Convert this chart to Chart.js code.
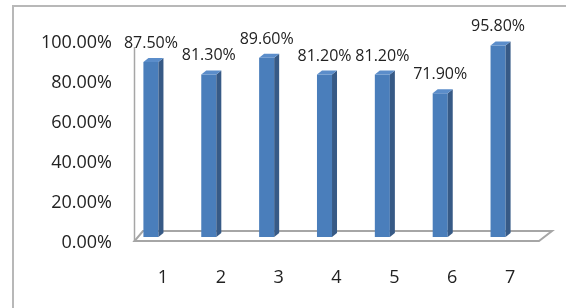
<!DOCTYPE html>
<html>
<head>
<meta charset="utf-8">
<script src="https://cdn.jsdelivr.net/npm/chart.js@4/dist/chart.umd.min.js"></script>
<style>
    html, body { margin: 0; padding: 0; background: #ffffff; }
    #wrap { width: 567px; height: 308px; }
</style>
</head>
<body>
<div id="wrap"><canvas id="chartRate" width="567" height="308"></canvas></div>
<script>
// 데이터
const categories = ['1', '2', '3', '4', '5', '6', '7'];
const rateValues = [87.5, 81.3, 89.6, 81.2, 81.2, 71.9, 95.8];
const yTicks = [0, 20, 40, 60, 80, 100];

// 3D 느낌 (옆면, 윗면, 바닥, 테두리)
const depthX = 5, depthY = -4;
const fake3d = {
    id: 'fake3d',
    beforeDatasetsDraw(chart) {
        const ctx = chart.ctx;
        const a = chart.chartArea;
        ctx.save();
        // 바깥 테두리
        ctx.strokeStyle = '#b8b8b8';
        ctx.lineWidth = 2;
        ctx.beginPath();
        ctx.moveTo(13, 308);
        ctx.lineTo(13, 6);
        ctx.lineTo(566, 6);
        ctx.stroke();
        // 벽 선
        ctx.strokeStyle = '#a6a6a6';
        ctx.lineWidth = 1.5;
        ctx.beginPath();
        ctx.moveTo(a.left + 12.5, a.top + 10);
        ctx.lineTo(a.left + 12.5, a.bottom + 4);
        ctx.stroke();
        // 바닥
        ctx.strokeStyle = '#a6a6a6';
        ctx.lineWidth = 2;
        ctx.beginPath();
        ctx.moveTo(a.left + 12.5, a.bottom + 4);
        ctx.lineTo(a.right + 12, a.bottom + 4);
        ctx.lineTo(a.right + 25, a.bottom - 6);
        ctx.lineTo(a.left + 21, a.bottom - 6);
        ctx.closePath();
        ctx.stroke();
        ctx.restore();
    },
    afterDatasetsDraw(chart) {
        const ctx = chart.ctx;
        const meta = chart.getDatasetMeta(0);
        ctx.save();
        meta.data.forEach(function(bar, i) {
            const half = bar.width / 2;
            const x1 = bar.x - half, x2 = bar.x + half;
            const top = bar.y, bottom = bar.base;
            // 옆면
            ctx.fillStyle = '#375a86';
            ctx.beginPath();
            ctx.moveTo(x2, top);
            ctx.lineTo(x2 + depthX, top + depthY);
            ctx.lineTo(x2 + depthX, bottom + depthY);
            ctx.lineTo(x2, bottom);
            ctx.closePath();
            ctx.fill();
            // 윗면
            ctx.fillStyle = '#5b8dca';
            ctx.beginPath();
            ctx.moveTo(x1, top);
            ctx.lineTo(x2, top);
            ctx.lineTo(x2 + depthX, top + depthY);
            ctx.lineTo(x1 + depthX, top + depthY);
            ctx.closePath();
            ctx.fill();
            // 값 라벨
            ctx.fillStyle = '#222222';
            ctx.font = '16px "Open Sans"';
            ctx.textAlign = 'center';
            ctx.textBaseline = 'middle';
            ctx.fillText(rateValues[i].toFixed(2) + '%', bar.x, top - 18.5);
        });
        ctx.restore();
    }
};

const ctx1 = document.getElementById('chartRate').getContext('2d');
const chartRate = new Chart(ctx1, {
    type: 'bar',
    data: {
        labels: categories,
        datasets: [{
            data: rateValues,
            backgroundColor: '#4a7ebb',
            borderWidth: 0,
            barPercentage: 0.26,
            categoryPercentage: 1.0
        }]
    },
    options: {
        responsive: false,
        animation: false,
        layout: { padding: { left: 0, top: 37, right: 40, bottom: 0 } },
        plugins: {
            legend: { display: false },
            tooltip: { enabled: false }
        },
        scales: {
            x: {
                grid: { display: false, drawTicks: false },
                border: { display: false },
                ticks: {
                    color: '#222222',
                    font: { family: 'Open Sans', size: 18 },
                    padding: 30,
                    labelOffset: 12,
                    maxRotation: 0
                },
                afterFit(scale) { scale.height = 71; }
            },
            y: {
                min: 0,
                max: 100,
                afterBuildTicks(scale) {
                    scale.ticks = yTicks.map(function(v) { return { value: v }; });
                },
                grid: { display: false, drawTicks: false },
                border: { display: false },
                ticks: {
                    color: '#222222',
                    font: { family: 'Open Sans', size: 18 },
                    padding: 10,
                    labelOffset: 6,
                    callback: function(v) { return Number(v).toFixed(2) + '%'; }
                },
                afterFit(scale) { scale.width = 122; }
            }
        }
    },
    plugins: [fake3d]
});
</script>
</body>
</html>
